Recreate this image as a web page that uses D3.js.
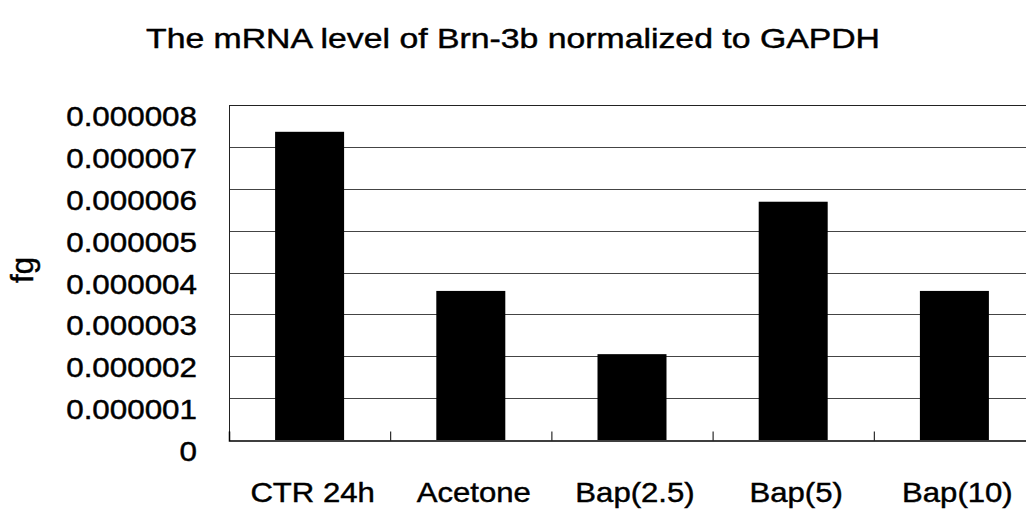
<!DOCTYPE html>
<html>
<head>
<meta charset="utf-8">
<script src="https://cdn.jsdelivr.net/npm/d3@7"></script>
<style>
  body { margin: 0; background: #fff; }
  text { font-family: "Liberation Sans", Arial, sans-serif; fill: #000; stroke: #000; stroke-width: 0.45px; }
</style>
</head>
<body>
<div id="chart"></div>
<script>
// mRNA level of Brn-3b bar chart

var categories = ["CTR 24h", "Acetone", "Bap(2.5)", "Bap(5)", "Bap(10)"];
var values = [0.00000736, 0.00000356, 0.00000205, 0.00000569, 0.00000356];
var yTicks = [0, 0.000001, 0.000002, 0.000003, 0.000004, 0.000005, 0.000006, 0.000007, 0.000008];
var yTickLabels = ["0", "0.000001", "0.000002", "0.000003", "0.000004", "0.000005", "0.000006", "0.000007", "0.000008"];
var titleText = "The mRNA level of Brn-3b normalized to GAPDH";
var yTitle = "fg";

var svgWidth = 1026;
var svgHeight = 519;

var plot = { left: 229, right: 1035, top: 105, bottom: 440 };

var svg = d3.select("#chart")
  .append("svg")
  .attr("width", svgWidth)
  .attr("height", svgHeight);

var xScale = d3.scaleBand()
  .domain(categories)
  .range([plot.left, plot.right])
  .paddingInner(0.572)
  .paddingOuter(0.286);

var yScale = d3.scaleLinear()
  .domain([0, 0.000008])
  .range([plot.bottom, plot.top]);

// widen the glyphs a bit, the source font is broader than Arial
function widen(sel, k) {
  sel.each(function() {
    var len = this.getComputedTextLength();
    d3.select(this)
      .attr("textLength", len * k)
      .attr("lengthAdjust", "spacingAndGlyphs");
  });
}

// gridlines
svg.append("g")
  .selectAll("line")
  .data(yTicks.slice(1))
  .enter()
  .append("line")
  .attr("x1", plot.left)
  .attr("x2", plot.right)
  .attr("y1", function(d) { return Math.round(yScale(d)) + 0.5; })
  .attr("y2", function(d) { return Math.round(yScale(d)) + 0.5; })
  .attr("stroke", function(d, i) { return i == yTicks.length - 2 ? "#222" : "#444"; })
  .attr("stroke-width", 1);

// left border
svg.append("line")
  .attr("x1", plot.left + 0.5)
  .attr("x2", plot.left + 0.5)
  .attr("y1", plot.top)
  .attr("y2", plot.bottom)
  .attr("stroke", "#222");

// bars
svg.append("g")
  .selectAll("rect")
  .data(values)
  .enter()
  .append("rect")
  .attr("x", function(d, i) { return xScale(categories[i]); })
  .attr("y", function(d) { return yScale(d); })
  .attr("width", xScale.bandwidth())
  .attr("height", function(d) { return plot.bottom - yScale(d); })
  .attr("fill", "#000");

// bottom axis with inside ticks between categories
var xAxis = d3.axisTop(d3.scaleLinear().domain([0, categories.length]).range([plot.left, plot.right]))
  .ticks(categories.length)
  .tickSize(9)
  .tickFormat("");

svg.append("g")
  .attr("transform", `translate(0, ${plot.bottom + 0.5})`)
  .call(xAxis)
  .call(function(g) {
    g.select(".domain").attr("stroke", "#000").attr("stroke-width", 1.5);
    g.selectAll(".tick line").attr("stroke", "#000");
  });

// y tick labels
svg.append("g")
  .selectAll("text")
  .data(yTicks)
  .enter()
  .append("text")
  .attr("x", 197)
  .attr("y", function(d) { return yScale(d) + 21; })
  .attr("text-anchor", "end")
  .attr("font-size", "28px")
  .text(function(d, i) { return yTickLabels[i]; })
  .call(widen, 1.12);

// x labels
svg.append("g")
  .selectAll("text")
  .data(categories)
  .enter()
  .append("text")
  .attr("x", function(d) { return xScale(d) + xScale.bandwidth() / 2 + 3; })
  .attr("y", 502)
  .attr("text-anchor", "middle")
  .attr("font-size", "28px")
  .text(function(d) { return d; })
  .call(widen, 1.11);

// y title
svg.append("text")
  .attr("transform", "translate(33, 270) rotate(-90)")
  .attr("text-anchor", "middle")
  .attr("font-size", "31px")
  .text(yTitle);

// chart title
svg.append("text")
  .attr("x", 513)
  .attr("y", 48)
  .attr("text-anchor", "middle")
  .attr("font-size", "28px")
  .attr("textLength", 734)
  .attr("lengthAdjust", "spacingAndGlyphs")
  .text(titleText);
</script>
</body>
</html>
